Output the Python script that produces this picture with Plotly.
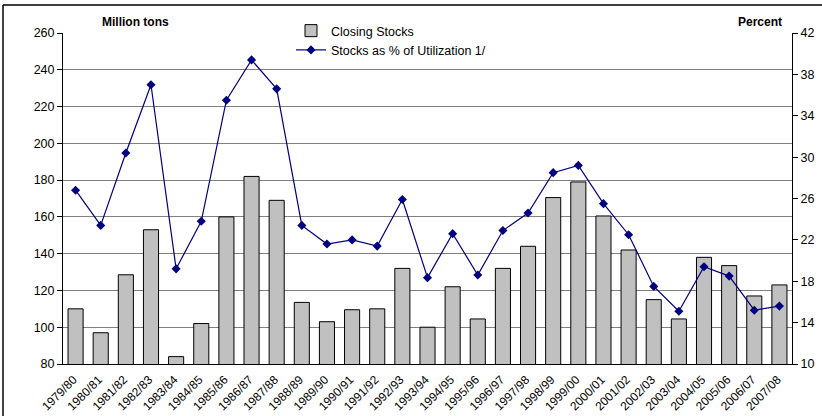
import plotly.graph_objects as go

years = ["1979/80","1980/81","1981/82","1982/83","1983/84","1984/85","1985/86","1986/87",
         "1987/88","1988/89","1989/90","1990/91","1991/92","1992/93","1993/94","1994/95",
         "1995/96","1996/97","1997/98","1998/99","1999/00","2000/01","2001/02","2002/03",
         "2003/04","2004/05","2005/06","2006/07","2007/08"]
closing_stocks = [110, 97, 128.5, 153, 84, 102, 160, 182, 169, 113.5, 103, 109.5, 110, 132,
                  100, 122, 104.5, 132, 144, 170.5, 179, 160.5, 142, 115, 104.5, 138, 133.5,
                  117, 123]
pct_utilization = [26.8, 23.4, 30.4, 37.0, 19.2, 23.8, 35.5, 39.4, 36.6, 23.4, 21.6, 22.0,
                   21.4, 25.9, 18.35, 22.6, 18.6, 22.9, 24.6, 28.5, 29.2, 25.5, 22.5, 17.5,
                   15.1, 19.4, 18.5, 15.2, 15.6]
left_ticks = list(range(80, 261, 20))
right_ticks = list(range(10, 43, 4))

W, H = 822, 416
L, R, T, B = 63, 30, 33, 52
pw, ph = W - L - R, H - T - B

def px(x):
    return (x - L) / pw

def py(y):
    return (H - B - y) / ph

fig = go.Figure()
fig.add_trace(go.Bar(
    x=years, y=closing_stocks, name="Closing Stocks",
    marker=dict(color="#C0C0C0", line=dict(color="#000000", width=1)),
    yaxis="y",
))
fig.add_trace(go.Scatter(
    x=years, y=pct_utilization, name="Stocks as % of Utilization 1/",
    mode="lines+markers",
    line=dict(color="#000080", width=1.2),
    marker=dict(symbol="diamond", size=7, color="#000080"),
    yaxis="y2",
))

font = dict(family="Liberation Sans, Arial, sans-serif", size=12, color="#000000")

fig.update_layout(
    width=W, height=H,
    margin=dict(l=L, r=R, t=T, b=B, autoexpand=False),
    paper_bgcolor="white", plot_bgcolor="white",
    font=font,
    bargap=0.4,
    showlegend=True,
    legend=dict(
        x=px(291), y=py(16), xanchor="left", yanchor="top",
        bgcolor="white", borderwidth=0,
        font=dict(family="Liberation Sans, Arial, sans-serif", size=12.5),
        tracegroupgap=0, itemwidth=30,
    ),
    xaxis=dict(
        type="category", tickangle=-45, showgrid=False, automargin=False,
        showline=True, linecolor="#000000", linewidth=1,
        ticks="", tickfont=dict(size=12),
        ticklabelstandoff=3, ticklabelshift=-2,
        range=[-0.5, len(years) - 0.5],
    ),
    yaxis=dict(
        range=[80, 260], tickvals=left_ticks, automargin=False,
        showgrid=True, gridcolor="#808080", gridwidth=1,
        showline=True, linecolor="#000000", linewidth=1,
        ticks="outside", ticklen=5, tickcolor="#000000",
        zeroline=False, tickfont=dict(size=12.5),
    ),
    yaxis2=dict(
        range=[10, 42], tickvals=right_ticks, overlaying="y", side="right", automargin=False,
        showgrid=False,
        showline=True, linecolor="#000000", linewidth=1,
        ticks="outside", ticklen=5, tickcolor="#000000",
        zeroline=False, tickfont=dict(size=12.5),
    ),
    annotations=[
        dict(text="<b>Million tons</b>", xref="paper", yref="paper",
             x=px(135), y=py(22), xanchor="center", yanchor="middle",
             showarrow=False, font=dict(size=12)),
        dict(text="<b>Percent</b>", xref="paper", yref="paper",
             x=px(784), y=py(22), xanchor="right", yanchor="middle",
             showarrow=False, font=dict(size=12)),
    ],
    shapes=[
        dict(type="line", xref="paper", yref="paper", x0=px(3), x1=px(822), y0=py(5), y1=py(5),
             line=dict(color="#000000", width=1.5)),
        dict(type="line", xref="paper", yref="paper", x0=px(3), x1=px(3), y0=py(5), y1=py(416),
             line=dict(color="#000000", width=1.5)),
    ],
)

fig.write_html("out.html")
